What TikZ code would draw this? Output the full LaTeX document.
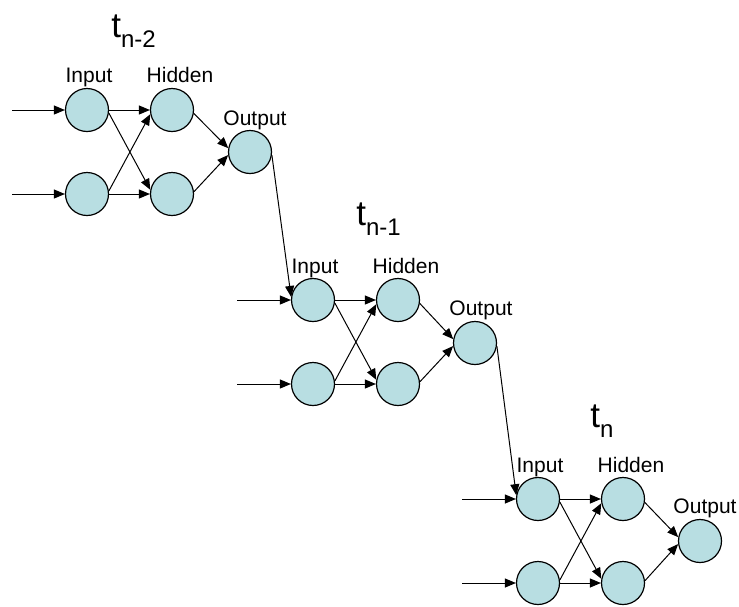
\documentclass[tikz,border=0pt]{standalone}
\usepackage{fontspec}
\setmainfont{Liberation Sans}
\usepackage{xcolor}
\usepackage{tikz}
\usetikzlibrary{arrows.meta}

\definecolor{unitfill}{RGB}{184,222,226}

% time step label, t with a lowered index
\newcommand{\tlabel}[1]{\fontsize{17.5}{20}\selectfont t\raisebox{-5pt}{\fontsize{12}{14}\selectfont #1}}

\begin{document}
\begin{tikzpicture}[x=0.5pt, y=-0.5pt,
    unit/.style={circle, draw=black, line width=0.6pt, fill=unitfill,
      minimum size=21.5pt, inner sep=0pt},
    lbl/.style={font=\fontsize{10.5}{12}\selectfont, anchor=base, inner sep=0pt},
    tlbl/.style={anchor=base west, inner sep=0pt},
    conn/.style={line width=0.5pt, -{Triangle[length=5.5pt, width=4.5pt]}}]
  \useasboundingbox (0,0) rectangle (739,606);

  % Step t_{n-2}
  \node[tlbl] (t1) at (111,37) {\tlabel{n-2}};
  \node[unit] (i11) at (87,110) {};
  \node[unit] (i12) at (87,194) {};
  \node[unit] (h11) at (172,110) {};
  \node[unit] (h12) at (172,194) {};
  \node[unit] (o1) at (250,152) {};
  \node[lbl] (li1) at (89,82) {Input};
  \node[lbl] (lh1) at (180,82) {Hidden};
  \node[lbl] (lo1) at (255,125) {Output};
  \coordinate (x11) at (12,110);
  \coordinate (x12) at (12,194);
  \draw[conn] (x11) -- (i11);
  \draw[conn] (x12) -- (i12);
  \draw[conn] (i11.east) -- (h11.west);
  \draw[conn] (i11.-8) -- (h12.169);
  \draw[conn] (i12.8) -- (h11.191);
  \draw[conn] (i12.east) -- (h12.west);
  \draw[conn] (h11.-9) -- (o1.170);
  \draw[conn] (h12.6) -- (o1.188);

  % Step t_{n-1}
  \node[tlbl] (t2) at (356,225) {\tlabel{n-1}};
  \node[unit] (i21) at (313,300) {};
  \node[unit] (i22) at (313,384) {};
  \node[unit] (h21) at (398,300) {};
  \node[unit] (h22) at (398,384) {};
  \node[unit] (o2) at (475,343) {};
  \node[lbl] (li2) at (315,273) {Input};
  \node[lbl] (lh2) at (406,273) {Hidden};
  \node[lbl] (lo2) at (481,315) {Output};
  \coordinate (x21) at (237,300);
  \coordinate (x22) at (237,384);
  \draw[conn] (x21) -- (i21);
  \draw[conn] (x22) -- (i22);
  \draw[conn] (i21.east) -- (h21.west);
  \draw[conn] (i21.-8) -- (h22.169);
  \draw[conn] (i22.8) -- (h21.191);
  \draw[conn] (i22.east) -- (h22.west);
  \draw[conn] (h21.-9) -- (o2.170);
  \draw[conn] (h22.6) -- (o2.188);

  % Step t_n
  \node[tlbl] (t3) at (590,427) {\tlabel{n}};
  \node[unit] (i31) at (538,499) {};
  \node[unit] (i32) at (538,583) {};
  \node[unit] (h31) at (623,499) {};
  \node[unit] (h32) at (623,583) {};
  \node[unit] (o3) at (700,541) {};
  \node[lbl] (li3) at (540,472) {Input};
  \node[lbl] (lh3) at (631,472) {Hidden};
  \node[lbl] (lo3) at (705,513) {Output};
  \coordinate (x31) at (462,499);
  \coordinate (x32) at (462,583);
  \draw[conn] (x31) -- (i31);
  \draw[conn] (x32) -- (i32);
  \draw[conn] (i31.east) -- (h31.west);
  \draw[conn] (i31.-8) -- (h32.169);
  \draw[conn] (i32.8) -- (h31.191);
  \draw[conn] (i32.east) -- (h32.west);
  \draw[conn] (h31.-9) -- (o3.170);
  \draw[conn] (h32.6) -- (o3.188);

  % Output of one step feeds the next
  \draw[conn] (o1.-8) -- (i21.172);
  \draw[conn] (o2.-8) -- (i31.170);
\end{tikzpicture}
\end{document}
